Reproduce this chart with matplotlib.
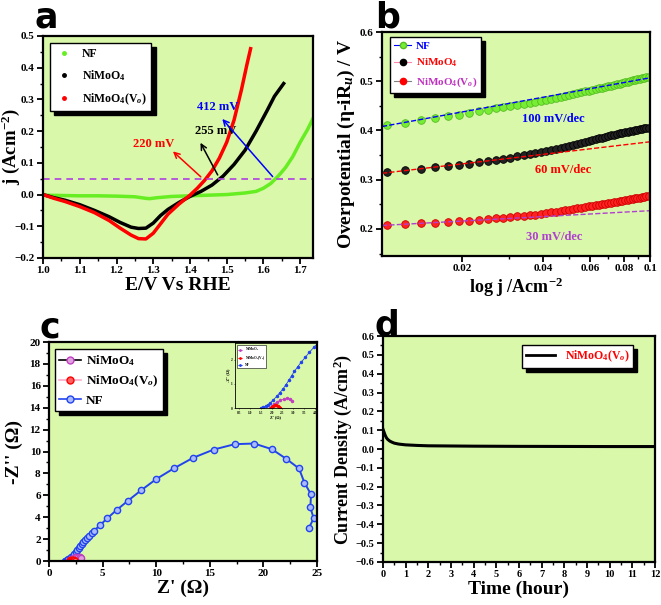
import matplotlib
matplotlib.use("Agg")
import matplotlib.pyplot as plt
from matplotlib.lines import Line2D
from matplotlib.ticker import AutoMinorLocator, FixedLocator, NullFormatter

plt.rcParams["font.family"] = ["Liberation Serif", "DejaVu Serif"]
plt.rcParams["font.weight"] = "bold"
plt.rcParams["axes.labelweight"] = "bold"
plt.rcParams["mathtext.fontset"] = "custom"
plt.rcParams["mathtext.rm"] = "Liberation Serif:bold"
plt.rcParams["mathtext.it"] = "Liberation Serif:italic:bold"
plt.rcParams["mathtext.bf"] = "Liberation Serif:bold"

bg = "#d9f8aa"

# ---- panel a: LSV curves
nf_E = [1.00, 1.05, 1.10, 1.15, 1.20, 1.25, 1.28, 1.29, 1.31, 1.35, 1.40, 1.45, 1.50, 1.55,
        1.58, 1.60, 1.62, 1.64, 1.66, 1.68, 1.70, 1.72, 1.735]
nf_j = [-0.002, -0.003, -0.004, -0.004, -0.005, -0.007, -0.012, -0.013, -0.010, -0.006, -0.004,
        -0.002, 0.000, 0.005, 0.010, 0.020, 0.035, 0.058, 0.085, 0.120, 0.165, 0.205, 0.240]
ni_E = [1.00, 1.03, 1.06, 1.10, 1.14, 1.18, 1.21, 1.24, 1.26, 1.28, 1.30, 1.32, 1.34, 1.37,
        1.40, 1.43, 1.46, 1.49, 1.52, 1.55, 1.58, 1.61, 1.63, 1.655]
ni_j = [0.0, -0.010, -0.018, -0.032, -0.050, -0.070, -0.088, -0.103, -0.107, -0.106, -0.090,
        -0.066, -0.047, -0.025, -0.006, 0.010, 0.030, 0.058, 0.095, 0.140, 0.200, 0.265, 0.310, 0.350]
vo_E = [1.00, 1.03, 1.06, 1.10, 1.14, 1.18, 1.21, 1.24, 1.26, 1.28, 1.30, 1.32, 1.34, 1.37,
        1.40, 1.42, 1.44, 1.46, 1.48, 1.50, 1.52, 1.54, 1.555, 1.565]
vo_j = [0.0, -0.012, -0.022, -0.038, -0.057, -0.082, -0.106, -0.128, -0.139, -0.140, -0.122,
        -0.092, -0.062, -0.030, -0.002, 0.020, 0.045, 0.075, 0.115, 0.165, 0.235, 0.330, 0.410, 0.460]
ref_j = 0.05
# (label, color, arrow start, arrow end, text centre)
onset = [("220 mV", "red", (1.435, 0.05), (1.348, 0.142), (1.30, 0.158)),
         ("255 mV", "black", (1.479, 0.054), (1.425, 0.171), (1.47, 0.200)),
         ("412 mV", "blue", (1.63, 0.05), (1.483, 0.245), (1.475, 0.275))]

# ---- panel b: Tafel
log_j = [0.0105, 0.0123, 0.0141, 0.0159, 0.0177, 0.0195, 0.0213, 0.0231, 0.0249, 0.0267,
         0.0285, 0.0303, 0.0321, 0.0339, 0.0357, 0.0375, 0.0393, 0.0411, 0.0429, 0.0447,
         0.0465, 0.0483, 0.0501, 0.0519, 0.0537, 0.0555, 0.0573, 0.0591, 0.0609, 0.0627,
         0.0645, 0.0663, 0.0681, 0.0699, 0.0717, 0.0735, 0.0753, 0.0771, 0.0789, 0.0807,
         0.0825, 0.0843, 0.0861, 0.0879, 0.0897, 0.0915, 0.0933, 0.0951, 0.0969, 0.0987]
eta_nf = [0.411, 0.416, 0.421, 0.425, 0.429, 0.432, 0.436, 0.439, 0.442, 0.445,
          0.447, 0.450, 0.452, 0.454, 0.456, 0.458, 0.460, 0.462, 0.464, 0.466,
          0.468, 0.470, 0.472, 0.474, 0.476, 0.478, 0.480, 0.481, 0.483, 0.484,
          0.486, 0.487, 0.489, 0.490, 0.491, 0.493, 0.494, 0.495, 0.497, 0.498,
          0.499, 0.500, 0.502, 0.503, 0.504, 0.505, 0.506, 0.507, 0.508, 0.509]
eta_ni = [0.316, 0.319, 0.322, 0.325, 0.327, 0.329, 0.332, 0.335, 0.338, 0.340,
          0.343, 0.345, 0.348, 0.350, 0.352, 0.354, 0.356, 0.358, 0.361, 0.363,
          0.365, 0.367, 0.369, 0.371, 0.373, 0.375, 0.377, 0.379, 0.381, 0.382,
          0.384, 0.385, 0.387, 0.388, 0.390, 0.391, 0.393, 0.394, 0.395, 0.396,
          0.397, 0.398, 0.399, 0.400, 0.401, 0.402, 0.403, 0.404, 0.405, 0.405]
eta_vo = [0.207, 0.209, 0.211, 0.212, 0.214, 0.216, 0.217, 0.219, 0.220, 0.222,
          0.223, 0.224, 0.226, 0.227, 0.228, 0.229, 0.231, 0.232, 0.234, 0.235,
          0.237, 0.238, 0.239, 0.241, 0.242, 0.243, 0.245, 0.246, 0.247, 0.248,
          0.249, 0.250, 0.251, 0.252, 0.253, 0.254, 0.255, 0.256, 0.257, 0.258,
          0.259, 0.260, 0.261, 0.262, 0.263, 0.263, 0.264, 0.265, 0.266, 0.266]
fit_j = [0.0101, 0.1]
fit_nf = [0.408, 0.507]
fit_ni = [0.313, 0.377]
fit_vo = [0.207, 0.237]
slopes = [("100 mV/dec", "blue", 0.0437, 0.424),
          ("60 mV/dec", "red", 0.0474, 0.320),
          ("30 mV/dec", "#b040d0", 0.044, 0.184)]

# ---- panel c: Nyquist
nf_zr = [1.50, 1.56, 1.62, 1.72, 1.82, 1.93, 2.08, 2.24, 2.38, 2.52, 2.66, 2.80, 2.92, 3.05,
         3.20, 3.37, 3.55, 3.74, 3.97, 4.21, 4.77, 5.42, 6.30, 7.36, 8.57, 10.00, 11.63, 13.43,
         15.37, 17.33, 19.14, 20.79, 22.13, 23.32, 23.82, 24.44, 24.38, 24.69, 24.22]
nf_zi = [0.00, 0.01, 0.03, 0.08, 0.14, 0.21, 0.34, 0.49, 0.64, 0.79, 0.97, 1.16, 1.34, 1.52,
         1.71, 1.91, 2.10, 2.31, 2.54, 2.77, 3.28, 3.89, 4.65, 5.50, 6.44, 7.48, 8.45, 9.42,
         10.18, 10.67, 10.73, 10.21, 9.33, 8.45, 7.17, 6.08, 4.89, 3.89, 2.98]
ni_zr = [1.90, 2.00, 2.12, 2.25, 2.40, 2.55, 2.70, 2.85, 2.95]
ni_zi = [0.00, 0.08, 0.17, 0.25, 0.32, 0.37, 0.40, 0.37, 0.30]
vo_zr = [1.95, 2.00, 2.07, 2.14, 2.21, 2.28, 2.34, 2.40]
vo_zi = [0.00, 0.05, 0.09, 0.11, 0.11, 0.09, 0.05, 0.02]

# ---- panel d: chronoamperometry
t_h = [0, 0.03, 0.06, 0.1, 0.15, 0.2, 0.3, 0.4, 0.5, 0.7, 1.0, 1.5, 2, 3, 4, 5, 6, 8, 10, 12]
cur = [0.105, 0.095, 0.085, 0.072, 0.060, 0.052, 0.042, 0.036, 0.031, 0.026, 0.022, 0.019,
       0.017, 0.016, 0.015, 0.0145, 0.014, 0.0135, 0.013, 0.013]

lbl_ni = "NiMoO$_4$"
lbl_vo = "NiMoO$_4$(V$_o$)"
shadow = {"facecolor": "black", "edgecolor": "black", "alpha": 1, "ox": 3, "oy": -3}

fig = plt.figure(figsize=(6.61, 6.05), dpi=100)


def style(ax, fs=8):
    ax.set_facecolor(bg)
    for s in ax.spines.values():
        s.set_linewidth(1.6)
    ax.tick_params(which="major", direction="out", length=4, width=1.3, labelsize=fs, pad=2)
    ax.tick_params(which="minor", direction="out", length=2.5, width=1.0)
    for lab in ax.get_xticklabels() + ax.get_yticklabels():
        lab.set_fontweight("bold")


def panel_letter(x, y, s):
    fig.text(x, y, s, fontsize=25, fontweight="heavy", family="DejaVu Sans", va="top")


# a
ax = fig.add_axes([0.0651, 0.5736, 0.4085, 0.3669])
ax.plot(nf_E, nf_j, color="#66ee22", lw=2.5)
ax.plot(ni_E, ni_j, color="black", lw=2.5)
ax.plot(vo_E, vo_j, color="red", lw=2.5)
ax.axhline(ref_j, color="#b040e0", ls=(0, (4, 3)), lw=1.2)
for txt, c, p0, p1, pt in onset:
    ax.annotate("", xy=p1, xytext=p0,
                arrowprops=dict(arrowstyle="->", color=c, lw=1.1))
    ax.text(pt[0], pt[1], txt, color=c, fontsize=9, fontweight="bold",
            ha="center", va="center")
ax.set_xlim(1.0, 1.735)
ax.set_ylim(-0.2, 0.5)
ax.set_xticks([1.0, 1.1, 1.2, 1.3, 1.4, 1.5, 1.6, 1.7])
ax.xaxis.set_minor_locator(AutoMinorLocator(2))
ax.yaxis.set_minor_locator(AutoMinorLocator(2))
ax.set_xlabel("E/V Vs RHE", fontsize=14, labelpad=1)
ax.set_ylabel("j (Acm$^{-2}$)", fontsize=13.5)
ax.yaxis.set_label_coords(-0.078, 0.5)
style(ax)
h = [Line2D([], [], ls="none", marker="o", ms=2.5, color=c) for c in ("#66ee22", "black", "red")]
ax.legend(h, ["NF", lbl_ni, lbl_vo], loc="upper left", bbox_to_anchor=(0.026, 0.968),
          borderaxespad=0, fancybox=False, edgecolor="black", framealpha=1,
          shadow=shadow, prop={"size": 8.5, "weight": "bold"}, handlelength=1.5,
          labelspacing=0.7)
panel_letter(0.052, 1.0, "a")

# b
ax = fig.add_axes([0.578, 0.5769, 0.4055, 0.3702])
ax.set_xscale("log")
ax.plot(log_j, eta_nf, ls="none", marker="o", ms=5.5, mfc="#77ee33", mec="#55bb22", mew=0.6)
ax.plot(log_j, eta_ni, ls="none", marker="o", ms=5.5, mfc="#222222", mec="black", mew=0.6)
ax.plot(log_j, eta_vo, ls="none", marker="o", ms=5.5, mfc="#ff2222", mec="#cc0000", mew=0.6)
ax.plot(fit_j, fit_nf, color="blue", ls="--", lw=1)
ax.plot(fit_j, fit_ni, color="red", ls="--", lw=1)
ax.plot(fit_j, fit_vo, color="#b040d0", ls="--", lw=1)
for txt, c, x, y in slopes:
    ax.text(x, y, txt, color=c, fontsize=9, fontweight="bold", ha="center", va="center")
ax.set_xlim(0.0101, 0.1)
ax.set_ylim(0.145, 0.6)
ax.xaxis.set_major_locator(FixedLocator([0.02, 0.04, 0.06, 0.08, 0.1]))
ax.xaxis.set_minor_locator(FixedLocator([0.03, 0.05, 0.07, 0.09]))
ax.xaxis.set_minor_formatter(NullFormatter())
ax.set_xticklabels(["0.02", "0.04", "0.06", "0.08", "0.1"])
ax.yaxis.set_minor_locator(AutoMinorLocator(2))
ax.set_xlabel("log j /Acm$^{-2}$", fontsize=13, labelpad=2)
ax.set_ylabel("Overpotential (η-iR$_u$) / V", fontsize=14)
ax.yaxis.set_label_coords(-0.093, 0.5)
style(ax)
h = [Line2D([], [], color="blue", lw=0.8, marker="o", ms=4.5, mfc="#77ee33", mec="#55bb22"),
     Line2D([], [], color="#ff88aa", lw=0.8, marker="o", ms=4.5, mfc="black", mec="black"),
     Line2D([], [], color="gray", lw=0.8, marker="o", ms=4.5, mfc="red", mec="red")]
leg = ax.legend(h, ["NF", lbl_ni, lbl_vo], loc="upper left", bbox_to_anchor=(0.029, 0.978),
                borderaxespad=0, fancybox=False, edgecolor="black", framealpha=1,
                shadow=shadow, prop={"size": 8, "weight": "bold"}, handlelength=1.6,
                labelspacing=0.55, borderpad=0.35, handletextpad=0.4)
for t, c in zip(leg.get_texts(), ["blue", "red", "#c030c0"]):
    t.set_color(c)
panel_letter(0.568, 1.0, "b")

# c
ax = fig.add_axes([0.0741, 0.0727, 0.4055, 0.362])
ax.plot(nf_zr, nf_zi, color="#2244ee", lw=1.4, marker="o", ms=4.5, mfc="#aabbff", mec="#2244ee",
        mew=1.0, label="NF")
ax.plot(ni_zr, ni_zi, color="#c040c0", lw=1.2, marker="o", ms=4.5, mfc="#e0a0e0",
        mec="#c040c0", label=lbl_ni)
ax.plot(vo_zr, vo_zi, color="red", lw=1.2, marker="o", ms=4.5, mfc="#ff9090", mec="red",
        label=lbl_vo)
ax.set_xlim(0, 25)
ax.set_ylim(0, 20)
ax.set_xticks([0, 5, 10, 15, 20, 25])
ax.set_yticks(range(0, 21, 2))
ax.xaxis.set_minor_locator(AutoMinorLocator(2))
ax.yaxis.set_minor_locator(AutoMinorLocator(2))
ax.set_xlabel("Z' (Ω)", fontsize=14, labelpad=1)
ax.set_ylabel("-Z'' (Ω)", fontsize=14)
ax.yaxis.set_label_coords(-0.097, 0.5)
style(ax)
h = [Line2D([], [], color="black", lw=1.2, marker="o", ms=5, mfc="#e0a0e0", mec="#c040c0"),
     Line2D([], [], color="#ffaacc", lw=1.2, marker="o", ms=5, mfc="#ff6060", mec="red"),
     Line2D([], [], color="#2244ee", lw=1.2, marker="o", ms=5, mfc="#aabbff", mec="#2244ee")]
ax.legend(h, [lbl_ni, lbl_vo, "NF"], loc="upper left", bbox_to_anchor=(0.022, 0.968),
          borderaxespad=0, fancybox=False, edgecolor="black", framealpha=1,
          shadow=shadow, prop={"size": 9.5, "weight": "bold"}, handlelength=1.6,
          labelspacing=0.4, borderpad=0.35, handletextpad=0.4)
panel_letter(0.060, 0.487, "c")

# c inset
ins = fig.add_axes([0.3555, 0.3256, 0.1225, 0.1074])
ins.plot(nf_zr, nf_zi, color="#2244ee", lw=0.6, marker="o", ms=1.5, label="NF")
ins.plot(ni_zr, ni_zi, color="#c040c0", lw=0.6, marker="o", ms=1.5, label=lbl_ni)
ins.plot(vo_zr, vo_zi, color="red", lw=0.8, marker="o", ms=1.5, label=lbl_vo)
ins.set_xlim(0.3, 4.05)
ins.set_ylim(0, 2.7)
ins.set_xticks([0.5, 1.0, 1.5, 2.0, 2.5, 3.0, 3.5, 4.0])
ins.set_yticks([0, 1, 2])
ins.set_facecolor(bg)
for s in ins.spines.values():
    s.set_linewidth(0.6)
ins.tick_params(labelsize=2.5, length=1, width=0.4, pad=1)
ins.set_xlabel("Z' (Ω)", fontsize=3, labelpad=0.5)
ins.set_ylabel("-Z'' (Ω)", fontsize=3, labelpad=0.5)
h = [Line2D([], [], color=c, lw=0.5, marker="o", ms=1) for c in ("#c040c0", "red", "#2244ee")]
ins.legend(h, [lbl_ni, lbl_vo, "NF"], loc="upper left", fontsize=2.5, frameon=True,
           fancybox=False, edgecolor="black", framealpha=1, handlelength=1.2,
           borderpad=0.3, labelspacing=0.3).get_frame().set_linewidth(0.4)

# d
ax = fig.add_axes([0.5794, 0.0711, 0.4115, 0.3735])
ax.plot(t_h, cur, color="black", lw=2.2)
ax.set_xlim(0, 12)
ax.set_ylim(-0.6, 0.6)
ax.set_xticks(range(0, 13))
ax.set_yticks([round(-0.6 + 0.1 * i, 1) for i in range(13)])
ax.xaxis.set_minor_locator(AutoMinorLocator(2))
ax.yaxis.set_minor_locator(AutoMinorLocator(2))
ax.set_xlabel("Time (hour)", fontsize=14, labelpad=1)
ax.set_ylabel("Current Density (A/cm$^2$)", fontsize=13)
ax.yaxis.set_label_coords(-0.108, 0.5)
style(ax, fs=7.5)
leg = ax.legend([Line2D([], [], color="black", lw=2)], [lbl_vo], loc="upper right",
                bbox_to_anchor=(0.919, 0.96), borderaxespad=0, fancybox=False,
                edgecolor="black", framealpha=1, shadow=shadow,
                prop={"size": 8.5, "weight": "bold"}, handlelength=2.5, borderpad=0.3)
leg.get_texts()[0].set_color("red")
panel_letter(0.567, 0.49, "d")

fig.savefig("out.png", dpi=100)
